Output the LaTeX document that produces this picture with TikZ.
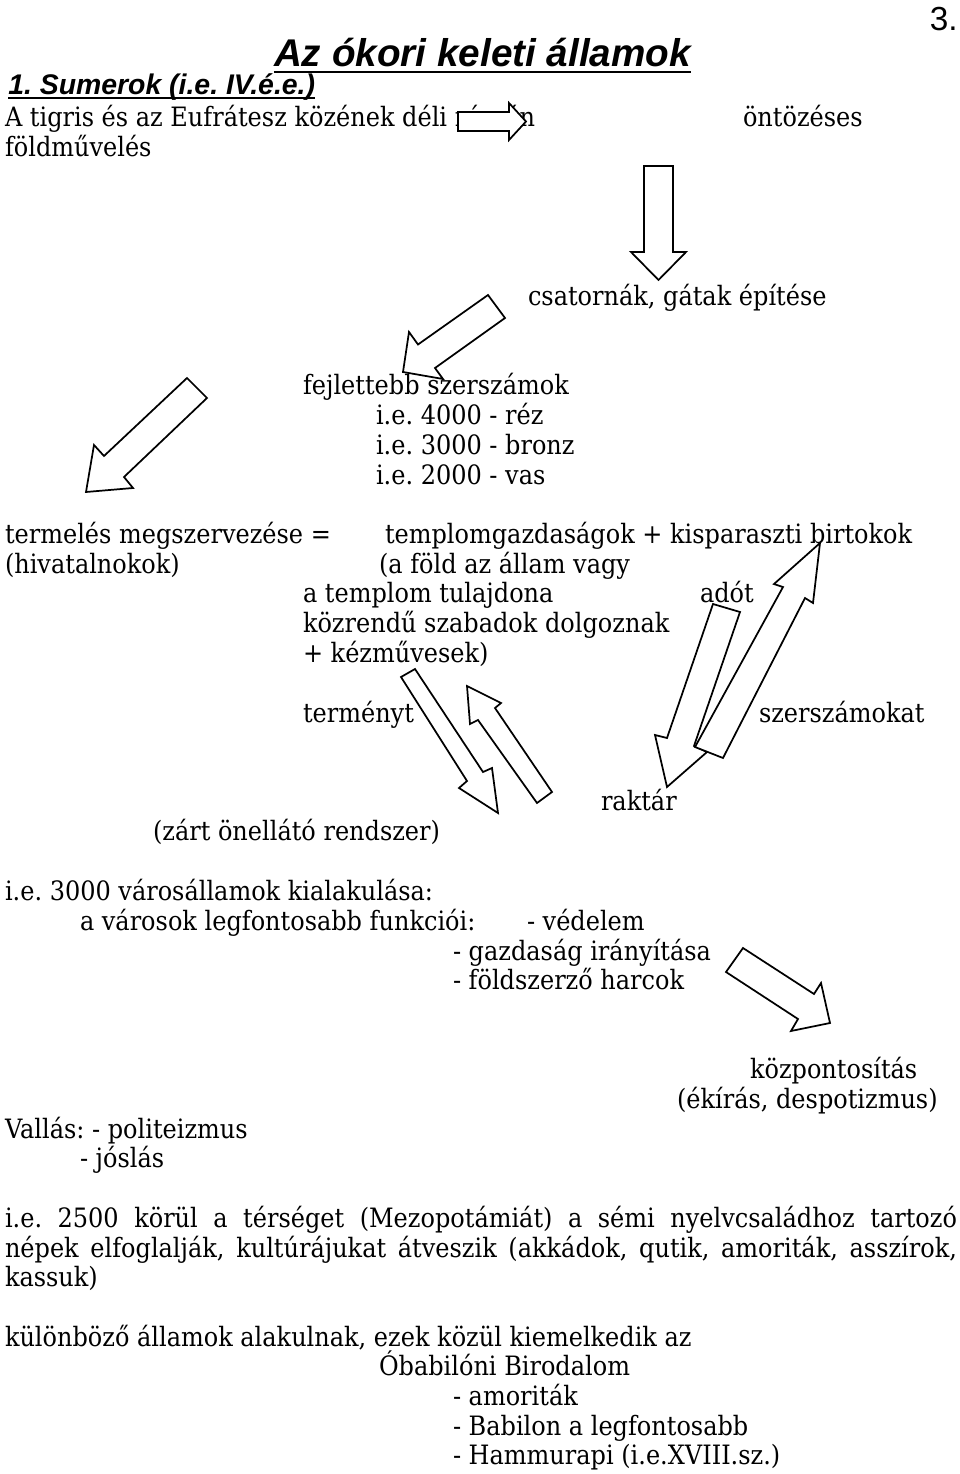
\documentclass[tikz,border=0pt]{standalone}
\usepackage{fontspec}
\usepackage{graphicx}
\setmainfont{DejaVu Serif}[FakeStretch=0.9]
\newfontfamily\arialfont{Liberation Sans}
\newdimen\pxu \pxu=0.75pt
\frenchspacing
\begin{document}
\begin{tikzpicture}[x=0.75pt,y=-0.75pt,
  txt/.style={anchor=base west, inner sep=0pt, outer sep=0pt, font=\fontsize{20}{24}\selectfont},
  barrow/.style={draw=black, fill=white, line width=1.3pt, line join=miter}]
\useasboundingbox[fill=white] (0,0) rectangle (960,1474);

% heading
\node[anchor=base east, inner sep=0pt, font=\arialfont\fontsize{25}{28}\selectfont] (pg) at (958,30) {3.};
\node[anchor=base, inner sep=0pt, font=\arialfont\bfseries\itshape\fontsize{29}{34}\selectfont] (title) at (482.5,66) {Az ókori keleti államok};
\draw[line width=1.8pt] ([yshift=-4.5pt]title.base west) -- ([yshift=-4.5pt]title.base east);
\node[anchor=base west, inner sep=0pt, font=\arialfont\bfseries\itshape\fontsize{21.3}{24}\selectfont] (sum) at (8,94) {1. Sumerok (i.e. IV.é.e.)};
\draw[line width=1.5pt] ([yshift=-3pt]sum.base west) -- ([yshift=-3pt]sum.base east);

% body text
\node[txt] (a1) at (5,126) {A tigris és az Eufrátesz közének déli részén};
\node[txt] (ont) at (743,126) {öntözéses};
\node[txt] (fold) at (5,156) {földművelés};
\node[txt] (csat) at (528,305) {csatornák, gátak építése};
\node[txt] (fej) at (303,394) {fejlettebb szerszámok};
\node[txt] (r1) at (376,424) {i.e. 4000 - réz};
\node[txt] (r2) at (376,454) {i.e. 3000 - bronz};
\node[txt] (r3) at (376,484) {i.e. 2000 - vas};
\node[txt] (term) at (5,543) {termelés megszervezése =};
\node[txt] (templ) at (385,543) {templomgazdaságok + kisparaszti birtokok};
\node[txt] (hiv) at (5,573) {(hivatalnokok)};
\node[txt] (afold) at (379,573) {(a föld az állam vagy};
\node[txt] (atem) at (303,602) {a templom tulajdona};
\node[txt] (ado) at (700,602) {adót};
\node[txt] (koz) at (303,632) {közrendű szabadok dolgoznak};
\node[txt] (kez) at (303,662) {+ kézművesek)};
\node[txt] (teny) at (303,722) {terményt};
\node[txt] (szsz) at (759,722) {szerszámokat};
\node[txt] (rakt) at (601,810) {raktár};
\node[txt] (zart) at (153,840) {(zárt önellátó rendszer)};
\node[txt] (ie3) at (5,900) {i.e. 3000 városállamok kialakulása:};
\node[txt] (varos) at (80,930) {a városok legfontosabb funkciói:};
\node[txt] (ved) at (527,930) {- védelem};
\node[txt] (gazd) at (453,960) {- gazdaság irányítása};
\node[txt] (fsz) at (453,989) {- földszerző harcok};
\node[txt] (kp) at (750,1078) {központosítás};
\node[txt] (eki) at (677,1108) {(ékírás, despotizmus)};
\node[txt] (vall) at (5,1138) {Vallás: - politeizmus};
\node[txt] (josl) at (80,1167) {- jóslás};
\node[txt] (p1) at (5,1227) {\makebox[952\pxu][s]{i.e. 2500 körül a térséget (Mezopotámiát) a sémi nyelvcsaládhoz tartozó}};
\node[txt] (p2) at (5,1257) {\makebox[952\pxu][s]{népek elfoglalják, kultúrájukat átveszik (akkádok, qutik, amoriták, asszírok,}};
\node[txt] (p3) at (5,1286) {kassuk)};
\node[txt] (kul) at (5,1346) {különböző államok alakulnak, ezek közül kiemelkedik az};
\node[txt] (oba) at (379,1375) {Óbabilóni Birodalom};
\node[txt] (amo) at (453,1405) {- amoriták};
\node[txt] (bab) at (453,1435) {- Babilon a legfontosabb};
\node[txt] (ham) at (453,1464) {- Hammurapi (i.e.XVIII.sz.)};

% block arrows
\draw[barrow] (458,112) -- (509,112) -- (509,103) -- (526,121.5) -- (509,140) -- (509,131) -- (458,131) -- cycle;
\draw[barrow] (644,166) -- (673,166) -- (673,252) -- (686,252) -- (658.5,280) -- (631,252) -- (644,252) -- cycle;
\draw[barrow] (488,295) -- (505,318) -- (435,368) -- (443,379) -- (403,372) -- (409,332) -- (418,344.5) -- cycle;
\draw[barrow] (187,378) -- (207,398) -- (124,477) -- (133,488) -- (86,492) -- (94,445) -- (104,456) -- cycle;
\draw[barrow] (401,677) -- (415,669) -- (483,772) -- (492,768) -- (498,813) -- (459,788) -- (467,781) -- cycle;
\draw[barrow] (467,686) -- (501,703) -- (495,708) -- (552,792) -- (537,803) -- (478,720) -- (470,724) -- cycle;
\draw[barrow] (713,604) -- (740,612) -- (694,746) -- (707,752) -- (667,787) -- (655,735) -- (667,738) -- cycle;
\draw[barrow] (820,543) -- (813,603) -- (805,598) -- (723,758) -- (695,747) -- (783,587) -- (774,584) -- cycle;
\draw[barrow] (743,948) -- (726,972) -- (798,1019) -- (791,1031) -- (830,1023) -- (821,983) -- (814,994) -- cycle;
\end{tikzpicture}
\end{document}
